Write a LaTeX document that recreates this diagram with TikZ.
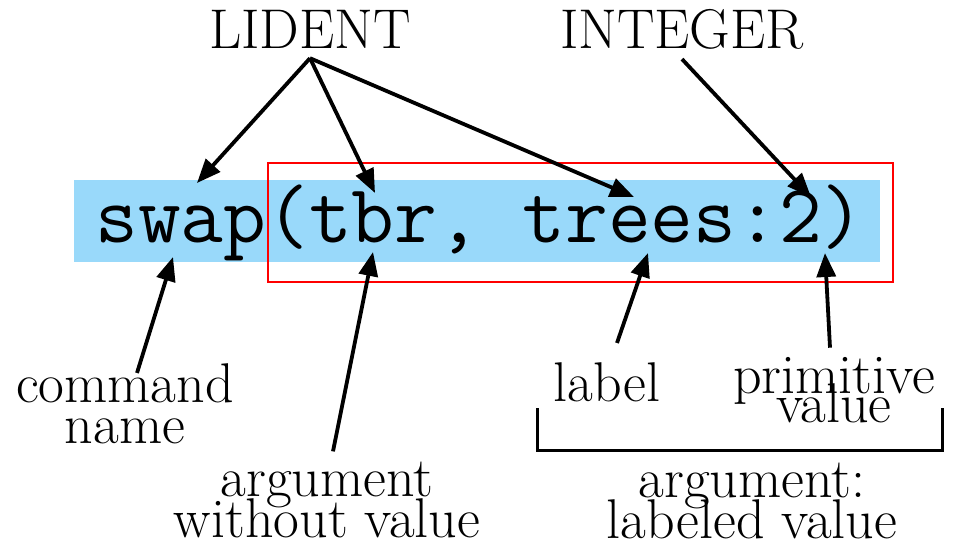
\documentclass[tikz,border=0pt]{standalone}
\usepackage{fontspec}
\usetikzlibrary{arrows.meta}
\definecolor{codeblue}{RGB}{153,217,250}
\newcommand\notefont{\fontsize{56}{41}\selectfont\lineskiplimit=-16000pt\relax}
\tikzset{
  note/.style={font=\notefont, align=center, inner sep=0pt, anchor=base},
  point/.style={-{Triangle[length=24pt,width=19pt]}, line width=3.8pt},
}
\begin{document}
\begin{tikzpicture}[x=1pt,y=-1pt]
    \useasboundingbox (0,0) rectangle (955,558);
    % the command line
    \fill[codeblue] (74,180) rectangle (880,262);
    \draw[red, line width=2.5pt] (268,163) rectangle (893,282);
    \node[inner sep=0pt, anchor=base, font=\ttfamily\fontsize{83}{90}\selectfont] (code) at (480,242) {swap(tbr, trees:2)};
    % token kinds
    \node[note, inner ysep=10pt] (lident) at (310,48) {LIDENT};
    \node[note, inner ysep=10pt] (integer) at (682,48) {INTEGER};
    % parts
    \node[note] (cmdname) at (125,443) {command\\name};
    \node[note] (argnoval) at (327,537) {argument\\without value};
    \node[note] (label) at (607,401) {label};
    \node[note] (primval) at (834,422) {primitive\\[-12pt]value};
    \node[note] (arglab) at (752,538) {argument:\\labeled value};
    % where the arrows point
    \coordinate (swaptop) at (197,183);
    \coordinate (tbrtop) at (375,193);
    \coordinate (treestop) at (634,197);
    \coordinate (twotop) at (811,197);
    \coordinate (swapbot) at (173,257);
    \coordinate (tbrbot) at (373,252);
    \coordinate (treesbot) at (648,253);
    \coordinate (twobot) at (825,253);
    \draw[point] (lident.south) -- (swaptop);
    \draw[point] (lident.south) -- (tbrtop);
    \draw[point] (lident.south) -- (treestop);
    \draw[point] (integer.south) -- (twotop);
    \draw[point] ([shift={(12,10)}]cmdname.north) -- (swapbot);
    \draw[point] ([shift={(6,-10)}]argnoval.north) -- (tbrbot);
    \draw[point] ([shift={(10,-19)}]label.north) -- (treesbot);
    \draw[point] ([shift={(-4,-9)}]primval.north) -- (twobot);
    % bracket over the labeled value
    \draw[line width=3pt] (537,408) -- (537,450) -- (942,450) -- (942,408);
\end{tikzpicture}
\end{document}
